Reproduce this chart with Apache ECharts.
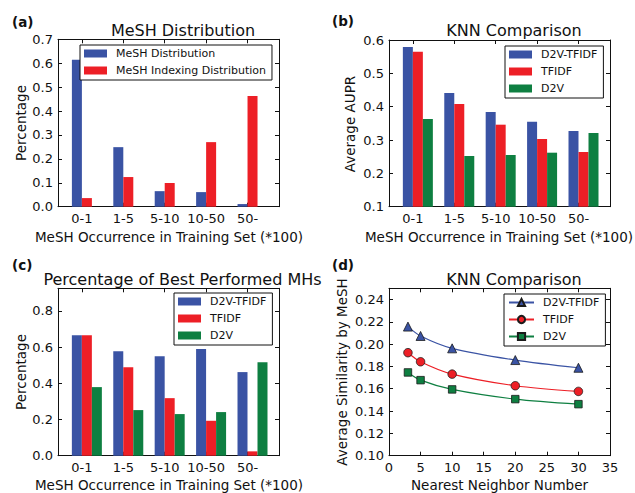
<!DOCTYPE html>
<html>
<head>
<meta charset="utf-8">
<script src="https://cdn.jsdelivr.net/npm/echarts@6/dist/echarts.min.js"></script>
<style>
html,body{margin:0;padding:0;background:#fff;}
#chart{width:635px;height:493px;}
</style>
</head>
<body>
<div id="chart"></div>
<script>
// ---------------- data ----------------
const categories = ['0-1', '1-5', '5-10', '10-50', '50-'];

// (a) MeSH Distribution
const meshDistribution = [0.614, 0.249, 0.065, 0.061, 0.011];
const meshIndexingDistribution = [0.036, 0.124, 0.099, 0.270, 0.463];

// (b) KNN Comparison, average AUPR
const auprD2vTfidf = [0.579, 0.441, 0.384, 0.355, 0.327];
const auprTfidf = [0.565, 0.408, 0.346, 0.303, 0.264];
const auprD2v = [0.363, 0.252, 0.255, 0.262, 0.321];

// (c) Percentage of best performed MHs
const bestD2vTfidf = [0.666, 0.577, 0.550, 0.589, 0.462];
const bestTfidf = [0.666, 0.489, 0.318, 0.193, 0.024];
const bestD2v = [0.379, 0.252, 0.230, 0.241, 0.517];

// (d) KNN Comparison, average similarity by MeSH
const neighborNumbers = [3, 5, 10, 20, 30];
const simD2vTfidf = [0.2157, 0.2073, 0.1962, 0.1857, 0.1788];
const simTfidf = [0.1923, 0.1842, 0.1731, 0.1627, 0.1576];
const simD2v = [0.1746, 0.1677, 0.1594, 0.1507, 0.1462];

// tick labels
const aYTicks = [0, 0.1, 0.2, 0.3, 0.4, 0.5, 0.6, 0.7];
const bYTicks = [0.1, 0.2, 0.3, 0.4, 0.5, 0.6];
const cYTicks = [0, 0.2, 0.4, 0.6, 0.8];
const dYTicks = [0.10, 0.12, 0.14, 0.16, 0.18, 0.20, 0.22, 0.24];
const dXTicks = [0, 5, 10, 15, 20, 25, 30, 35];

// ---------------- style ----------------
const FONT = 'DejaVu Sans';
const INK = '#111';
const BLUE = '#3a53a4';
const RED = '#ed1f26';
const GREEN = '#0e7f41';

const grids = [
  {left: 58, top: 39.3, width: 221, height: 167.4},
  {left: 389, top: 40, width: 221, height: 166.7},
  {left: 58, top: 288.3, width: 221, height: 167.4},
  {left: 389, top: 288.3, width: 221, height: 167.4}
];

const xAxes = [];
const yAxes = [];

function addAxes(g, xBase, yBase) {
  const common = {
    gridIndex: g,
    splitLine: {show: false},
    axisLine: {show: true, onZero: false, lineStyle: {color: INK, width: 1}},
    axisTick: {show: true, inside: true, length: 4, lineStyle: {color: INK, width: 1}}
  };
  const lbl = {color: INK, fontFamily: FONT, fontSize: 13};
  xAxes.push(Object.assign({}, common, xBase, {
    position: 'bottom',
    axisTick: Object.assign({}, common.axisTick, xBase.axisTick || {}),
    axisLabel: Object.assign({}, lbl, {margin: 5}, xBase.axisLabel || {})
  }));
  xAxes.push(Object.assign({}, common, xBase, {
    position: 'top',
    axisTick: Object.assign({}, common.axisTick, xBase.axisTick || {}),
    axisLabel: {show: false}
  }));
  yAxes.push(Object.assign({}, common, yBase, {
    position: 'left',
    axisTick: Object.assign({}, common.axisTick, yBase.axisTick || {}),
    axisLabel: Object.assign({}, lbl, {margin: 5}, yBase.axisLabel || {})
  }));
  yAxes.push(Object.assign({}, common, yBase, {
    position: 'right',
    axisTick: Object.assign({}, common.axisTick, yBase.axisTick || {}),
    axisLabel: {show: false}
  }));
}

const catFmt = v => categories[Math.round(v)];
const catIdx = categories.map((c, i) => i);
// two-bar panel: ticks at group centre; three-bar panel: ticks at blue/red boundary
const tickShift3 = -0.12;
const catTicks3 = catIdx.map(i => i + tickShift3);

// (a)
addAxes(0,
  {type: 'value', min: -0.577, max: 4.76,
   axisTick: {customValues: catIdx}, axisLabel: {customValues: catIdx, formatter: catFmt}},
  {type: 'value', min: 0, max: 0.7,
   axisTick: {customValues: aYTicks}, axisLabel: {customValues: aYTicks, formatter: v => v.toFixed(1)}});
// (b)
addAxes(1,
  {type: 'value', min: tickShift3 - 0.577, max: tickShift3 + 4.76,
   axisTick: {customValues: catTicks3}, axisLabel: {customValues: catTicks3, formatter: catFmt}},
  {type: 'value', min: 0.1, max: 0.6,
   axisTick: {customValues: bYTicks}, axisLabel: {customValues: bYTicks, formatter: v => v.toFixed(1)}});
// (c)
addAxes(2,
  {type: 'value', min: tickShift3 - 0.577, max: tickShift3 + 4.76,
   axisTick: {customValues: catTicks3}, axisLabel: {customValues: catTicks3, formatter: catFmt}},
  {type: 'value', min: 0, max: 0.925,
   axisTick: {customValues: cYTicks}, axisLabel: {customValues: cYTicks, formatter: v => v.toFixed(1)}});
// (d)
addAxes(3,
  {type: 'value', min: 0, max: 35,
   axisTick: {customValues: dXTicks}, axisLabel: {customValues: dXTicks, formatter: v => String(Math.round(v))}},
  {type: 'value', min: 0.10, max: 0.25,
   axisTick: {customValues: dYTicks}, axisLabel: {customValues: dYTicks, formatter: v => v.toFixed(2)}});

function barSeries(name, g, vals, color) {
  return {
    name: name, type: 'bar', xAxisIndex: 2 * g, yAxisIndex: 2 * g,
    data: vals.map((v, i) => [i, v]),
    barWidth: 10, barGap: '0%',
    itemStyle: {color: color},
    emphasis: {disabled: true}
  };
}
function lineSeries(name, vals, color, symbol, size) {
  return {
    name: name, type: 'line', xAxisIndex: 6, yAxisIndex: 6,
    data: neighborNumbers.map((k, i) => [k, vals[i]]),
    smooth: 0.3,
    symbol: symbol, symbolSize: size,
    lineStyle: {color: color, width: 1.2},
    itemStyle: {color: color, borderColor: '#1a1a1a', borderWidth: 0.8},
    emphasis: {disabled: true}
  };
}

const series = [
  barSeries('MeSH Distribution', 0, meshDistribution, BLUE),
  barSeries('MeSH Indexing Distribution', 0, meshIndexingDistribution, RED),
  barSeries('D2V-TFIDF (b)', 1, auprD2vTfidf, BLUE),
  barSeries('TFIDF (b)', 1, auprTfidf, RED),
  barSeries('D2V (b)', 1, auprD2v, GREEN),
  barSeries('D2V-TFIDF (c)', 2, bestD2vTfidf, BLUE),
  barSeries('TFIDF (c)', 2, bestTfidf, RED),
  barSeries('D2V (c)', 2, bestD2v, GREEN),
  lineSeries('D2V-TFIDF (d)', simD2vTfidf, BLUE, 'triangle', 9),
  lineSeries('TFIDF (d)', simTfidf, RED, 'circle', 8.5),
  lineSeries('D2V (d)', simD2v, GREEN, 'rect', 7.5)
];

function legend(left, top, names, icon, iw, ih) {
  const l = {
    left: left, top: top, orient: 'vertical',
    data: names,
    itemWidth: iw, itemHeight: ih, itemGap: 4,
    padding: [2, 6, 3, 4],
    borderColor: INK, borderWidth: 1, borderRadius: 0,
    backgroundColor: '#fff',
    selectedMode: false,
    formatter: n => n.replace(/ \([a-d]\)$/, ''),
    textStyle: {fontFamily: FONT, fontSize: 11, lineHeight: 13, color: INK, padding: [0, 0, 0, 4]}
  };
  if (icon) l.icon = icon;
  return l;
}

const legends = [
  legend(80, 45, ['MeSH Distribution', 'MeSH Indexing Distribution'], 'rect', 23, 8),
  legend(505, 46, ['D2V-TFIDF (b)', 'TFIDF (b)', 'D2V (b)'], 'rect', 23, 8),
  legend(174, 293, ['D2V-TFIDF (c)', 'TFIDF (c)', 'D2V (c)'], 'rect', 23, 8),
  legend(504, 294, ['D2V-TFIDF (d)', 'TFIDF (d)', 'D2V (d)'], null, 25, 9)
];

function txt(s, x, y, size, opts) {
  opts = opts || {};
  return {
    type: 'text', x: x, y: y, rotation: opts.rot || 0, silent: true,
    style: {
      text: s, x: 0, y: 0, fill: INK, fontFamily: FONT, fontSize: size,
      fontWeight: opts.bold ? 'bold' : 'normal',
      align: opts.align || 'center', verticalAlign: 'middle'
    }
  };
}

const graphics = [
  txt('(a)', 12, 22, 13.5, {bold: true, align: 'left'}),
  txt('(b)', 332, 21, 13.5, {bold: true, align: 'left'}),
  txt('(c)', 12, 265, 13.5, {bold: true, align: 'left'}),
  txt('(d)', 332, 265, 13.5, {bold: true, align: 'left'}),
  txt('MeSH Distribution', 183, 30, 16),
  txt('KNN Comparison', 514, 30, 16),
  txt('Percentage of Best Performed MHs', 182.5, 279, 16),
  txt('KNN Comparison', 514, 279, 16),
  txt('Percentage', 21, 123, 13.5, {rot: Math.PI / 2}),
  txt('Average AUPR', 350, 124, 13.5, {rot: Math.PI / 2}),
  txt('Percentage', 21, 372, 13.5, {rot: Math.PI / 2}),
  txt('Average Similarity by MeSH', 342, 372, 13.5, {rot: Math.PI / 2}),
  txt('MeSH Occurrence in Training Set (*100)', 169, 237, 13.5),
  txt('MeSH Occurrence in Training Set (*100)', 499, 237, 13.5),
  txt('MeSH Occurrence in Training Set (*100)', 169, 485, 13.5),
  txt('Nearest Neighbor Number', 499.5, 485, 13.5)
];

const chart = echarts.init(document.getElementById('chart'), null, {renderer: 'svg', width: 635, height: 493});
chart.setOption({
  animation: false,
  backgroundColor: '#fff',
  grid: grids,
  xAxis: xAxes,
  yAxis: yAxes,
  legend: legends,
  series: series,
  graphic: graphics
});
</script>
</body>
</html>
